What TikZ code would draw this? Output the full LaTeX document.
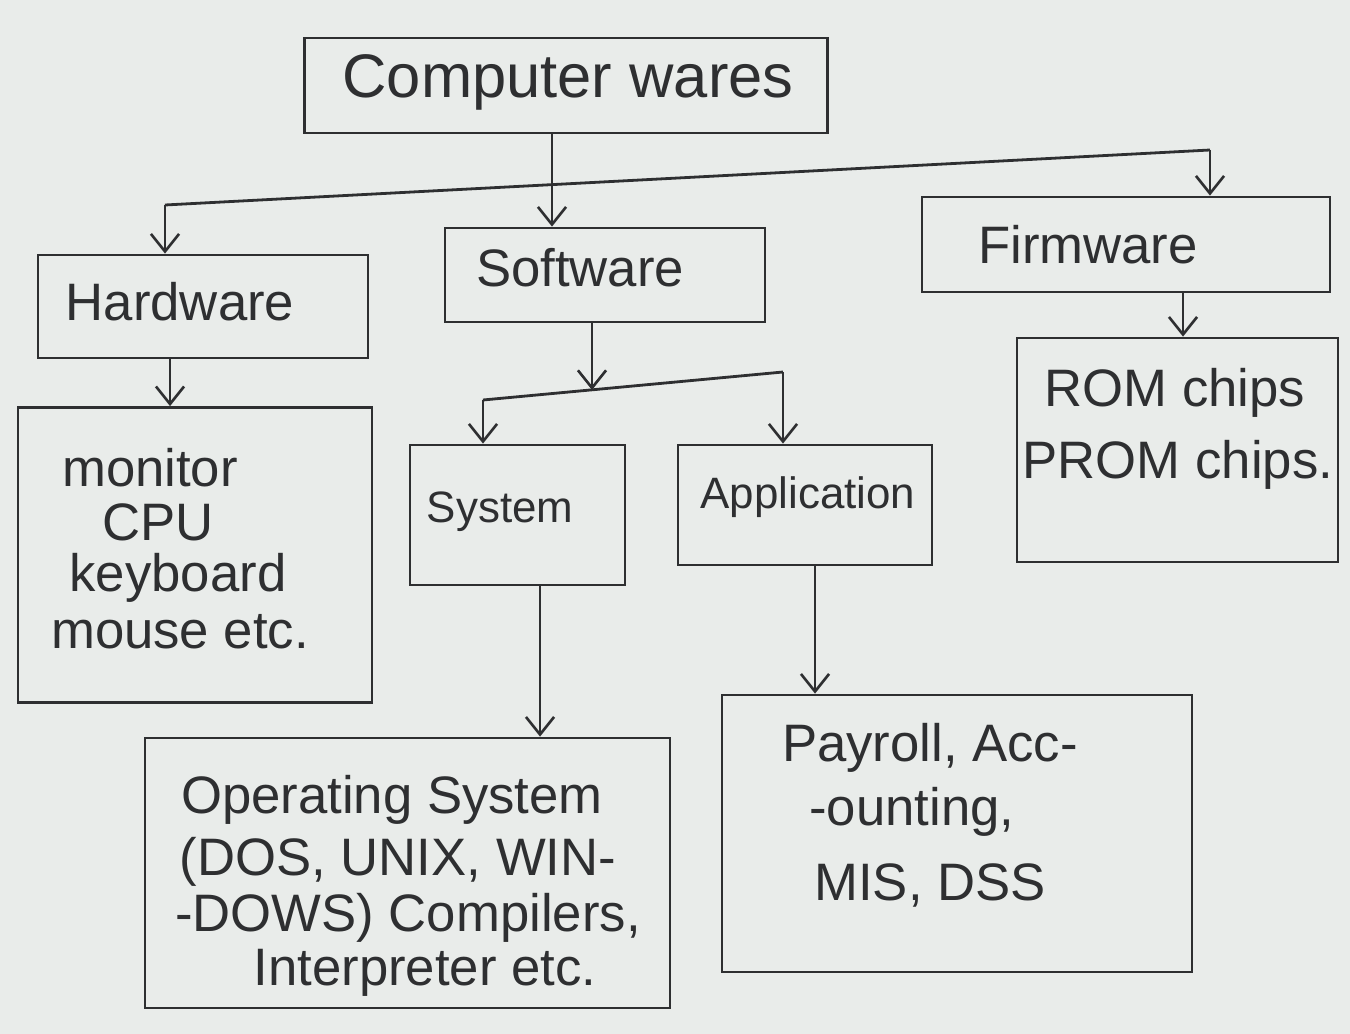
\documentclass[tikz,border=0pt]{standalone}
\usepackage{fontspec}
\setmainfont{Liberation Sans}
\usetikzlibrary{arrows.meta}
\definecolor{paper}{HTML}{E9ECEA}
\definecolor{ink}{HTML}{2E2F31}
\tikzset{
  box/.style={draw=ink, line width=1.6pt, inner sep=0pt},
  lbl/.style={text=ink, inner sep=0pt, font=\fontsize{30}{32}\selectfont},
  lblbig/.style={lbl, font=\fontsize{35}{38}\selectfont},
  lblsmall/.style={lbl, font=\fontsize{25}{28}\selectfont},
  wire/.style={draw=ink, line width=1.6pt},
  arr/.style={wire, -{Straight Barb[length=10pt,width=16pt,line width=1.5pt]}}
}
\begin{document}
\begin{tikzpicture}[x=0.02cm, y=-0.02cm]
  % page
  \fill[paper] (0,0) rectangle (1350,1034);
  \useasboundingbox (0,0) rectangle (1350,1034);

  % boxes
  \node[box, minimum width=10.46cm, minimum height=1.9cm] (cw) at (566,85.5) {};
  \node[box, minimum width=6.6cm,  minimum height=2.06cm] (hw) at (203,306.5) {};
  \node[box, minimum width=6.4cm,  minimum height=1.88cm] (sw) at (605,275) {};
  \node[box, minimum width=8.16cm, minimum height=1.9cm] (fw) at (1126,244.5) {};
  \node[box, minimum width=7.08cm, minimum height=5.9cm] (hl) at (195,555) {};
  \node[box, minimum width=4.3cm,  minimum height=2.8cm] (sy) at (517.5,515) {};
  \node[box, minimum width=5.08cm, minimum height=2.4cm] (ap) at (805,505) {};
  \node[box, minimum width=6.42cm, minimum height=4.48cm] (rm) at (1177.5,450) {};
  \node[box, minimum width=10.5cm, minimum height=5.4cm] (os) at (407.5,873) {};
  \node[box, minimum width=9.4cm,  minimum height=5.54cm] (pr) at (957,833.5) {};

  % texts
  \node[lblbig] (tcw) at (568,82) {Computer wares};
  \node[lbl] (thw) at (180,302) {Hardware};
  \node[lbl] (tsw) at (580,268) {Software};
  \node[lbl] (tfw) at (1088,245) {Firmware};
  \node[lbl] (th1) at (150,468) {monitor};
  \node[lbl] (th2) at (158,522) {CPU};
  \node[lbl] (th3) at (178,578) {keyboard};
  \node[lbl] (th4) at (180,632) {mouse etc.};
  \node[lblsmall] (tsy) at (500,512) {System};
  \node[lblsmall] (tap) at (808,497) {Application};
  \node[lbl] (tr1) at (1175,393) {ROM chips};
  \node[lbl] (tr2) at (1178,465) {PROM chips.};
  \node[lbl] (to1) at (392,800) {Operating System};
  \node[lbl] (to2) at (398,862) {(DOS, UNIX, WIN-};
  \node[lbl] (to3) at (408,918) {-DOWS) Compilers,};
  \node[lbl] (to4) at (425,973) {Interpreter etc.};
  \node[lbl] (tp1) at (930,748) {Payroll, Acc-};
  \node[lbl] (tp2) at (912,812) {-ounting,};
  \node[lbl] (tp3) at (930,885) {MIS, DSS};

  % top level branching
  \coordinate (busL) at (165,205);
  \coordinate (busR) at (1210,150);
  \draw[arr] (cw.south -| 552,0) -- (sw.north -| 552,0);
  \draw[wire] (busL) -- (busR);
  \draw[arr] (busL) -- (hw.north -| busL);
  \draw[arr] (busR) -- (fw.north -| busR);

  % software branching
  \coordinate (subL) at (483,400);
  \coordinate (subR) at (783,372);
  \coordinate (subM) at (592,390);
  \draw[arr] (sw.south -| subM) -- (subM);
  \draw[wire] (subL) -- (subR);
  \draw[arr] (subL) -- (sy.north -| subL);
  \draw[arr] (subR) -- (ap.north -| subR);

  % leaf connectors
  \draw[arr] (hw.south -| 170,0) -- (hl.north -| 170,0);
  \draw[arr] (fw.south -| 1183,0) -- (rm.north -| 1183,0);
  \draw[arr] (sy.south -| 540,0) -- (os.north -| 540,0);
  \draw[arr] (ap.south -| 815,0) -- (pr.north -| 815,0);
\end{tikzpicture}
\end{document}
